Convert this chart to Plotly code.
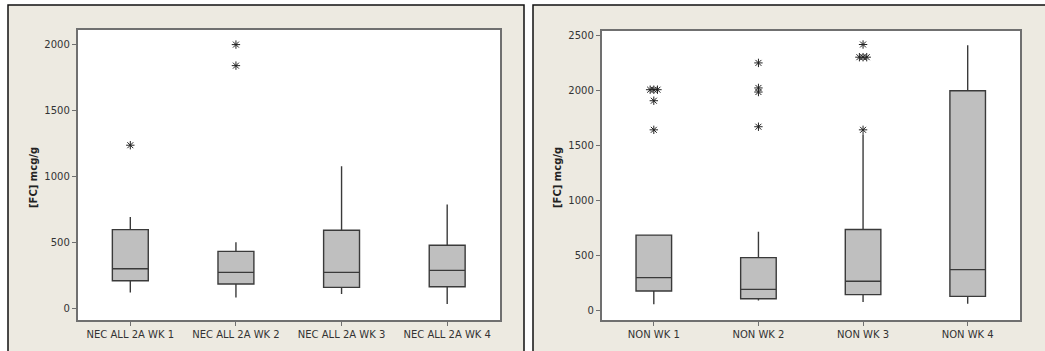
import plotly.graph_objects as go
from collections import Counter

# ---------------- data ----------------
nec_labels = ["NEC ALL 2A WK 1", "NEC ALL 2A WK 2", "NEC ALL 2A WK 3", "NEC ALL 2A WK 4"]
nec_lower = [119, 81, 107, 30]
nec_q1 = [208, 183, 157, 162]
nec_median = [299, 271, 271, 286]
nec_q3 = [596, 431, 591, 477]
nec_upper = [693, 500, 1078, 787]
nec_outliers = [[1238], [2003, 1843], [], []]

non_labels = ["NON WK 1", "NON WK 2", "NON WK 3", "NON WK 4"]
non_lower = [58, 94, 79, 64]
non_q1 = [179, 109, 146, 130]
non_median = [300, 194, 267, 373]
non_q3 = [686, 482, 737, 1996]
non_upper = [686, 716, 1602, 2409]
non_outliers = [[2005, 2005, 2005, 1905, 1641],
                [2248, 2021, 1984, 1669],
                [2415, 2300, 2300, 2300, 1641],
                []]

# ---------------- style ----------------
W, H = 1045, 351
BEIGE = "#EDEAE1"
BOX_FILL = "#BFBFBF"
BOX_LINE = "#3a3a3a"
FRAME = "#707070"
TXT = "#333333"
FONT = "DejaVu Sans"

fig = go.Figure()


def add_panel(xa, ya, lower, q1, med, q3, upper, outliers):
    pos = list(range(1, len(q1) + 1))
    fig.add_trace(go.Box(
        x=pos, q1=q1, median=med, q3=q3, lowerfence=lower, upperfence=upper,
        xaxis=xa, yaxis=ya, width=0.34, whiskerwidth=0,
        fillcolor=BOX_FILL, line=dict(color=BOX_LINE, width=1.4),
        boxpoints=False, showlegend=False, hoverinfo="skip"))
    ox, oy = [], []
    step = 0.035
    for p, vals in zip(pos, outliers):
        counts = Counter(vals)
        seen = Counter()
        for v in vals:
            n = counts[v]
            k = seen[v]
            seen[v] += 1
            ox.append(p + (k - (n - 1) / 2) * step)
            oy.append(v)
    fig.add_trace(go.Scatter(
        x=ox, y=oy, mode="markers", xaxis=xa, yaxis=ya,
        marker=dict(symbol="asterisk-open", size=7, color="#222222",
                    line=dict(color="#222222", width=1)),
        showlegend=False, hoverinfo="skip"))


add_panel("x", "y", nec_lower, nec_q1, nec_median, nec_q3, nec_upper, nec_outliers)
add_panel("x2", "y2", non_lower, non_q1, non_median, non_q3, non_upper, non_outliers)


def px_x(v):
    return v / W


def px_y(v):
    return 1 - v / H


axis_common = dict(showline=True, linecolor=FRAME, linewidth=1.5, mirror=True,
                   ticks="outside", ticklen=4, tickcolor=FRAME, tickwidth=1,
                   showgrid=False, zeroline=False,
                   tickfont=dict(family=FONT, size=10, color=TXT))

fig.update_layout(
    width=W, height=H, margin=dict(l=0, r=0, t=0, b=0),
    paper_bgcolor="white", plot_bgcolor="white",
    xaxis=dict(domain=[px_x(77.5), px_x(500)], anchor="y", range=[0.5, 4.5],
               tickvals=[1, 2, 3, 4], ticktext=nec_labels, **axis_common),
    yaxis=dict(domain=[px_y(320), px_y(30)], anchor="x", range=[-91, 2114],
               tickvals=[0, 500, 1000, 1500, 2000], **axis_common),
    xaxis2=dict(domain=[px_x(601.5), px_x(1020)], anchor="y2", range=[0.5, 4.5],
                tickvals=[1, 2, 3, 4], ticktext=non_labels, **axis_common),
    yaxis2=dict(domain=[px_y(320), px_y(30.5)], anchor="x2", range=[-84, 2542],
                tickvals=[0, 500, 1000, 1500, 2000, 2500], **axis_common),
    shapes=[
        dict(type="rect", xref="paper", yref="paper", layer="below",
             x0=px_x(8), x1=px_x(524), y0=-0.05, y1=px_y(5),
             fillcolor=BEIGE, line=dict(color="#111111", width=1.5)),
        dict(type="rect", xref="paper", yref="paper", layer="below",
             x0=px_x(533), x1=1.05, y0=-0.05, y1=px_y(5),
             fillcolor=BEIGE, line=dict(color="#111111", width=1.5)),
        dict(type="rect", xref="x domain", yref="y domain", layer="below",
             x0=0, x1=1, y0=0, y1=1, fillcolor="white", line=dict(width=0)),
        dict(type="rect", xref="x2 domain", yref="y2 domain", layer="below",
             x0=0, x1=1, y0=0, y1=1, fillcolor="white", line=dict(width=0)),
    ],
    annotations=[
        dict(text="<b>[FC] mcg/g</b>", xref="paper", yref="paper",
             x=px_x(33), y=px_y(178), xanchor="center", yanchor="middle",
             textangle=-90, showarrow=False,
             font=dict(family=FONT, size=10, color="#222222")),
        dict(text="<b>[FC] mcg/g</b>", xref="paper", yref="paper",
             x=px_x(557), y=px_y(178), xanchor="center", yanchor="middle",
             textangle=-90, showarrow=False,
             font=dict(family=FONT, size=10, color="#222222")),
    ],
)

fig.write_html("out.html", config={"displayModeBar": False},
               post_script="document.body.style.margin='0';")
